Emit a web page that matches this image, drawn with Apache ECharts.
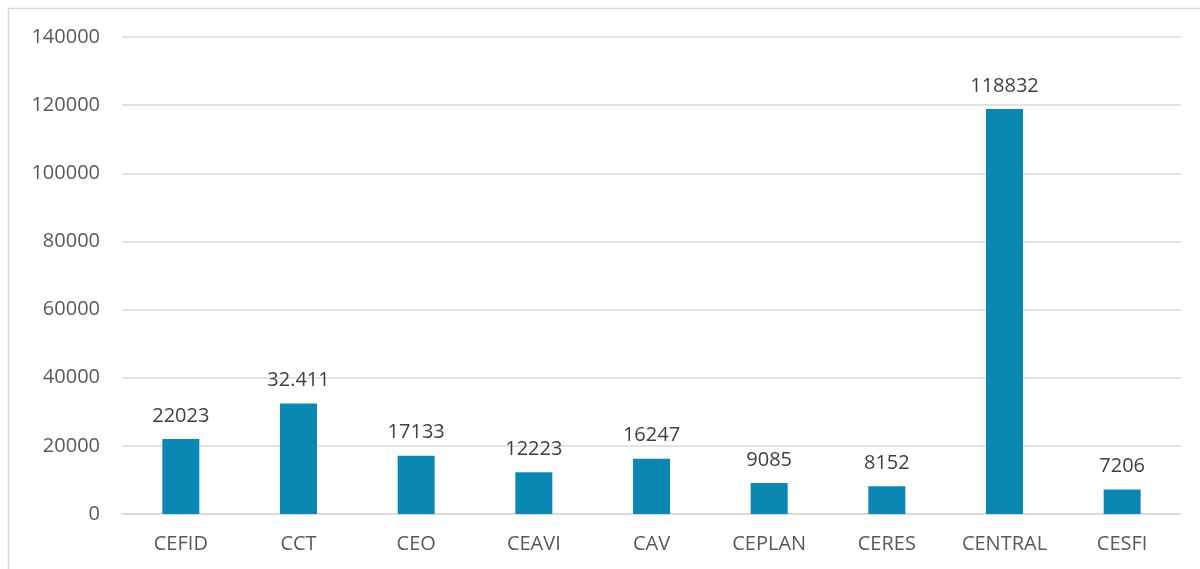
<!DOCTYPE html>
<html><head><meta charset="utf-8">
<script src="https://cdn.jsdelivr.net/npm/echarts@6/dist/echarts.min.js"></script>
<style>html,body{margin:0;padding:0;background:#fff}#c{width:1200px;height:569px}</style>
</head><body><div id="c"></div>
<script>
const categories = ["CEFID","CCT","CEO","CEAVI","CAV","CEPLAN","CERES","CENTRAL","CESFI"];
const values = [22023, 32411, 17133, 12223, 16247, 9085, 8152, 118832, 7206];
const valueLabels = ["22023","32.411","17133","12223","16247","9085","8152","118832","7206"];
const yTicks = [0, 20000, 40000, 60000, 80000, 100000, 120000, 140000];

const chart = echarts.init(document.getElementById('c'));
const font = "Open Sans, Liberation Sans, sans-serif";
chart.setOption({
  animation: false,
  graphic: [{type:'rect', shape:{x:8.5,y:8.5,width:1200,height:600}, style:{fill:'none', stroke:'#d9d9d9', lineWidth:1.5}, silent:true}],
  grid: {left:122, right:19, top:37, bottom:55},
  xAxis: {
    type:'category', data:categories,
    axisLine:{lineStyle:{color:'#d9d9d9', width:1.5}},
    axisTick:{show:false},
    axisLabel:{color:'#595959', fontSize:20, fontFamily:font, margin:20}
  },
  yAxis: {
    type:'value', min:yTicks[0], max:yTicks[yTicks.length-1], interval:20000,
    axisLine:{show:false}, axisTick:{show:false},
    splitLine:{lineStyle:{color:'#d9d9d9', width:1.5}},
    axisLabel:{color:'#595959', fontSize:20, fontFamily:font, margin:22, formatter: v => String(v)}
  },
  series: [{
    type:'bar', data:values, barWidth:37,
    itemStyle:{color:'#0a88b3'},
    label:{show:true, position:'top', distance:13, color:'#404040', fontSize:20, fontFamily:font,
      formatter: p => valueLabels[p.dataIndex]}
  }]
});
</script></body></html>
